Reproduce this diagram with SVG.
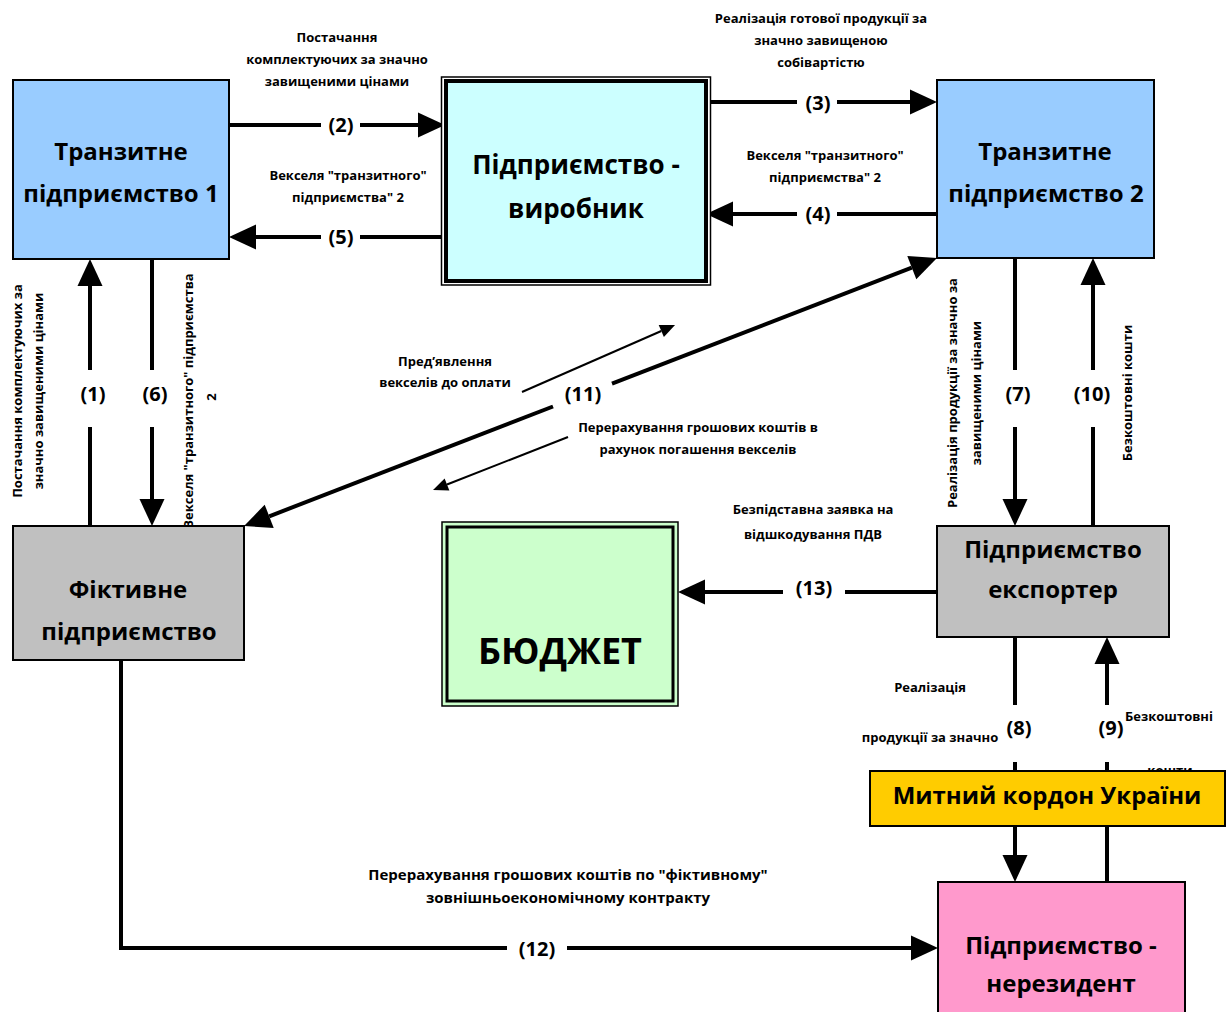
<svg xmlns="http://www.w3.org/2000/svg" width="1231" height="1012" viewBox="0 0 1231 1012">
  <defs>
    <marker id="head" markerUnits="userSpaceOnUse" markerWidth="28" markerHeight="26" refX="0" refY="12.5" orient="auto" overflow="visible">
      <path d="M0,0 L27,12.5 L0,25 z" fill="#000"/>
    </marker>
    <marker id="headSmall" markerUnits="userSpaceOnUse" markerWidth="16" markerHeight="14" refX="0" refY="6.5" orient="auto" overflow="visible">
      <path d="M0,0 L15,6.5 L0,13 z" fill="#000"/>
    </marker>
    <style>
      .box { stroke: #000; stroke-width: 2; }
      .t { font-family: "Open Sans", "Noto Sans", "DejaVu Sans", sans-serif; font-weight: bold; fill: #000; text-anchor: middle; }
      .lbl { font-size: 13px; }
      .lbl-wide { font-size: 15px; }
      .num { font-size: 20px; }
      .big { font-size: 24px; }
      .bigger { font-size: 26px; }
      .huge { font-size: 36px; }
      .conn { stroke: #000; stroke-width: 4; fill: none; }
      .conn.thin { stroke-width: 2; }
      .arrow { marker-end: url(#head); }
      .arrow-s { marker-end: url(#headSmall); }
    </style>
  </defs>

  <rect width="1231" height="1012" fill="#fff"/>

  <!-- text that the customs box partly hides -->
  <text class="t lbl" x="1170" y="775">кошти</text>

  <!-- connectors -->
  <g id="connectors">
    <!-- (2) T1 -> producer -->
    <path class="conn" d="M229,125 H321"/>
    <path class="conn arrow" d="M360,125 H418"/>
    <!-- (5) producer -> T1 -->
    <path class="conn" d="M446,237 H360"/>
    <path class="conn arrow" d="M321,237 H256"/>
    <!-- (3) producer -> T2 -->
    <path class="conn" d="M706,102 H797"/>
    <path class="conn arrow" d="M837,102 H910"/>
    <!-- (4) T2 -> producer -->
    <path class="conn" d="M937,214 H837"/>
    <path class="conn arrow" d="M797,214 H733"/>
    <!-- (1) fictitious -> T1 -->
    <path class="conn" d="M90,526 V427"/>
    <path class="conn arrow" d="M90,370 V286"/>
    <!-- (6) T1 -> fictitious -->
    <path class="conn" d="M152,259 V370"/>
    <path class="conn arrow" d="M152,427 V499"/>
    <!-- (7) T2 -> exporter -->
    <path class="conn" d="M1015,258 V370"/>
    <path class="conn arrow" d="M1015,427 V499"/>
    <!-- (10) exporter -> T2 -->
    <path class="conn" d="M1093,526 V427"/>
    <path class="conn arrow" d="M1093,370 V285"/>
    <!-- (11) fictitious <-> T2 -->
    <path class="conn arrow" d="M612,383.6 L911.8,267.7"/>
    <path class="conn arrow" d="M553,406.5 L269.2,516.3"/>
    <!-- (11) side arrows -->
    <path class="conn thin arrow-s" d="M522,392 L661.3,331"/>
    <path class="conn thin arrow-s" d="M568,437 L447,484.5"/>
    <!-- (13) exporter -> budget -->
    <path class="conn" d="M937,592 H845"/>
    <path class="conn arrow" d="M783,592 H705"/>
    <!-- (8) exporter -> non-resident through customs -->
    <path class="conn" d="M1015,637 V705"/>
    <path class="conn" d="M1015,762 V771"/>
    <path class="conn arrow" d="M1015,826 V855"/>
    <!-- (9) non-resident -> exporter through customs -->
    <path class="conn" d="M1107,882 V826"/>
    <path class="conn" d="M1107,771 V762"/>
    <path class="conn arrow" d="M1107,705 V664"/>
    <!-- (12) fictitious -> non-resident -->
    <path class="conn" d="M121,660 V948 H507"/>
    <path class="conn arrow" d="M567,948 H911"/>
  </g>

  <!-- connector labels -->
  <g id="connector-labels">
    <text class="t lbl" x="337" y="42">Постачання</text>
    <text class="t lbl" x="337" y="64">комплектуючих за значно</text>
    <text class="t lbl" x="337" y="86">завищеними цінами</text>
    <text class="t num" x="341" y="132">(2)</text>

    <text class="t lbl" x="348" y="180">Векселя "транзитного"</text>
    <text class="t lbl" x="348" y="202">підприємства" 2</text>
    <text class="t num" x="341" y="244">(5)</text>

    <text class="t lbl" x="821" y="23">Реалізація готової продукції за</text>
    <text class="t lbl" x="821" y="45">значно завищеною</text>
    <text class="t lbl" x="821" y="67">собівартістю</text>
    <text class="t num" x="818" y="110">(3)</text>

    <text class="t lbl" x="825" y="160">Векселя "транзитного"</text>
    <text class="t lbl" x="825" y="182">підприємства" 2</text>
    <text class="t num" x="818" y="221">(4)</text>

    <text class="t num" x="93" y="401">(1)</text>
    <text class="t num" x="155" y="401">(6)</text>
    <text class="t num" x="1018" y="401">(7)</text>
    <text class="t num" x="1092" y="401">(10)</text>

    <text class="t lbl" transform="translate(22,391) rotate(-90)">Постачання комплектуючих за</text>
    <text class="t lbl" transform="translate(43,391) rotate(-90)">значно завищеними цінами</text>
    <text class="t lbl" transform="translate(193,401) rotate(-90)">Векселя "транзитного" підприємства</text>
    <text class="t lbl" transform="translate(216,397) rotate(-90)">2</text>

    <text class="t lbl" transform="translate(957,393) rotate(-90)">Реалізація продукції за значно за</text>
    <text class="t lbl" transform="translate(981,393) rotate(-90)">завищеними цінами</text>
    <text class="t lbl" transform="translate(1132,393) rotate(-90)">Безкоштовні кошти</text>

    <text class="t lbl" x="445" y="366">Пред’явлення</text>
    <text class="t lbl" x="445" y="387">векселів до оплати</text>
    <text class="t num" x="583" y="401">(11)</text>
    <text class="t lbl" x="698" y="432">Перерахування грошових коштів в</text>
    <text class="t lbl" x="698" y="454">рахунок погашення векселів</text>

    <text class="t lbl" x="813" y="514">Безпідставна заявка на</text>
    <text class="t lbl" x="813" y="539">відшкодування ПДВ</text>
    <text class="t num" x="814" y="595">(13)</text>

    <text class="t lbl" x="930" y="692">Реалізація</text>
    <text class="t lbl" x="930" y="742">продукції за значно</text>
    <text class="t num" x="1019" y="735">(8)</text>
    <text class="t num" x="1111" y="735">(9)</text>
    <text class="t lbl" x="1169" y="721">Безкоштовні</text>

    <text class="t lbl-wide" x="568" y="880">Перерахування грошових коштів по "фіктивному"</text>
    <text class="t lbl-wide" x="568" y="903">зовнішньоекономічному контракту</text>
    <text class="t num" x="537" y="956">(12)</text>
  </g>

  <!-- nodes -->
  <g id="transit-1">
    <rect class="box" x="13" y="80" width="216" height="179" fill="#99ccff"/>
    <text class="t big" x="121" y="160">Транзитне</text>
    <text class="t big" x="121" y="202">підприємство 1</text>
  </g>

  <g id="producer">
    <rect x="441.5" y="77" width="269" height="208" fill="#fff" stroke="#000" stroke-width="1.5"/>
    <rect x="446" y="81" width="260" height="200" fill="#ccffff" stroke="#000" stroke-width="4"/>
    <text class="t bigger" x="576" y="174">Підприємство -</text>
    <text class="t bigger" x="576" y="218">виробник</text>
  </g>

  <g id="transit-2">
    <rect class="box" x="937" y="80" width="217" height="178" fill="#99ccff"/>
    <text class="t big" x="1045" y="160">Транзитне</text>
    <text class="t big" x="1046" y="202">підприємство 2</text>
  </g>

  <g id="fictitious">
    <rect class="box" x="13" y="526" width="231" height="134" fill="#c0c0c0"/>
    <text class="t big" x="128" y="598">Фіктивне</text>
    <text class="t big" x="129" y="640">підприємство</text>
  </g>

  <g id="exporter">
    <rect class="box" x="937" y="526" width="232" height="111" fill="#c0c0c0"/>
    <text class="t big" x="1053" y="558">Підприємство</text>
    <text class="t big" x="1053" y="598">експортер</text>
  </g>

  <g id="budget">
    <rect x="442" y="522" width="236" height="184" fill="#ccffcc" stroke="#000" stroke-width="1.5"/>
    <rect x="447" y="527" width="226" height="174" fill="#ccffcc" stroke="#000" stroke-width="3"/>
    <text class="t huge" x="560" y="664">БЮДЖЕТ</text>
  </g>

  <g id="customs">
    <rect class="box" x="870" y="771" width="355" height="55" fill="#ffcc00"/>
    <text class="t big" x="1047" y="804">Митний кордон України</text>
  </g>

  <g id="non-resident">
    <rect class="box" x="938" y="882" width="247" height="140" fill="#ff99cc"/>
    <text class="t big" x="1061" y="954">Підприємство -</text>
    <text class="t big" x="1061" y="992">нерезидент</text>
  </g>
</svg>
